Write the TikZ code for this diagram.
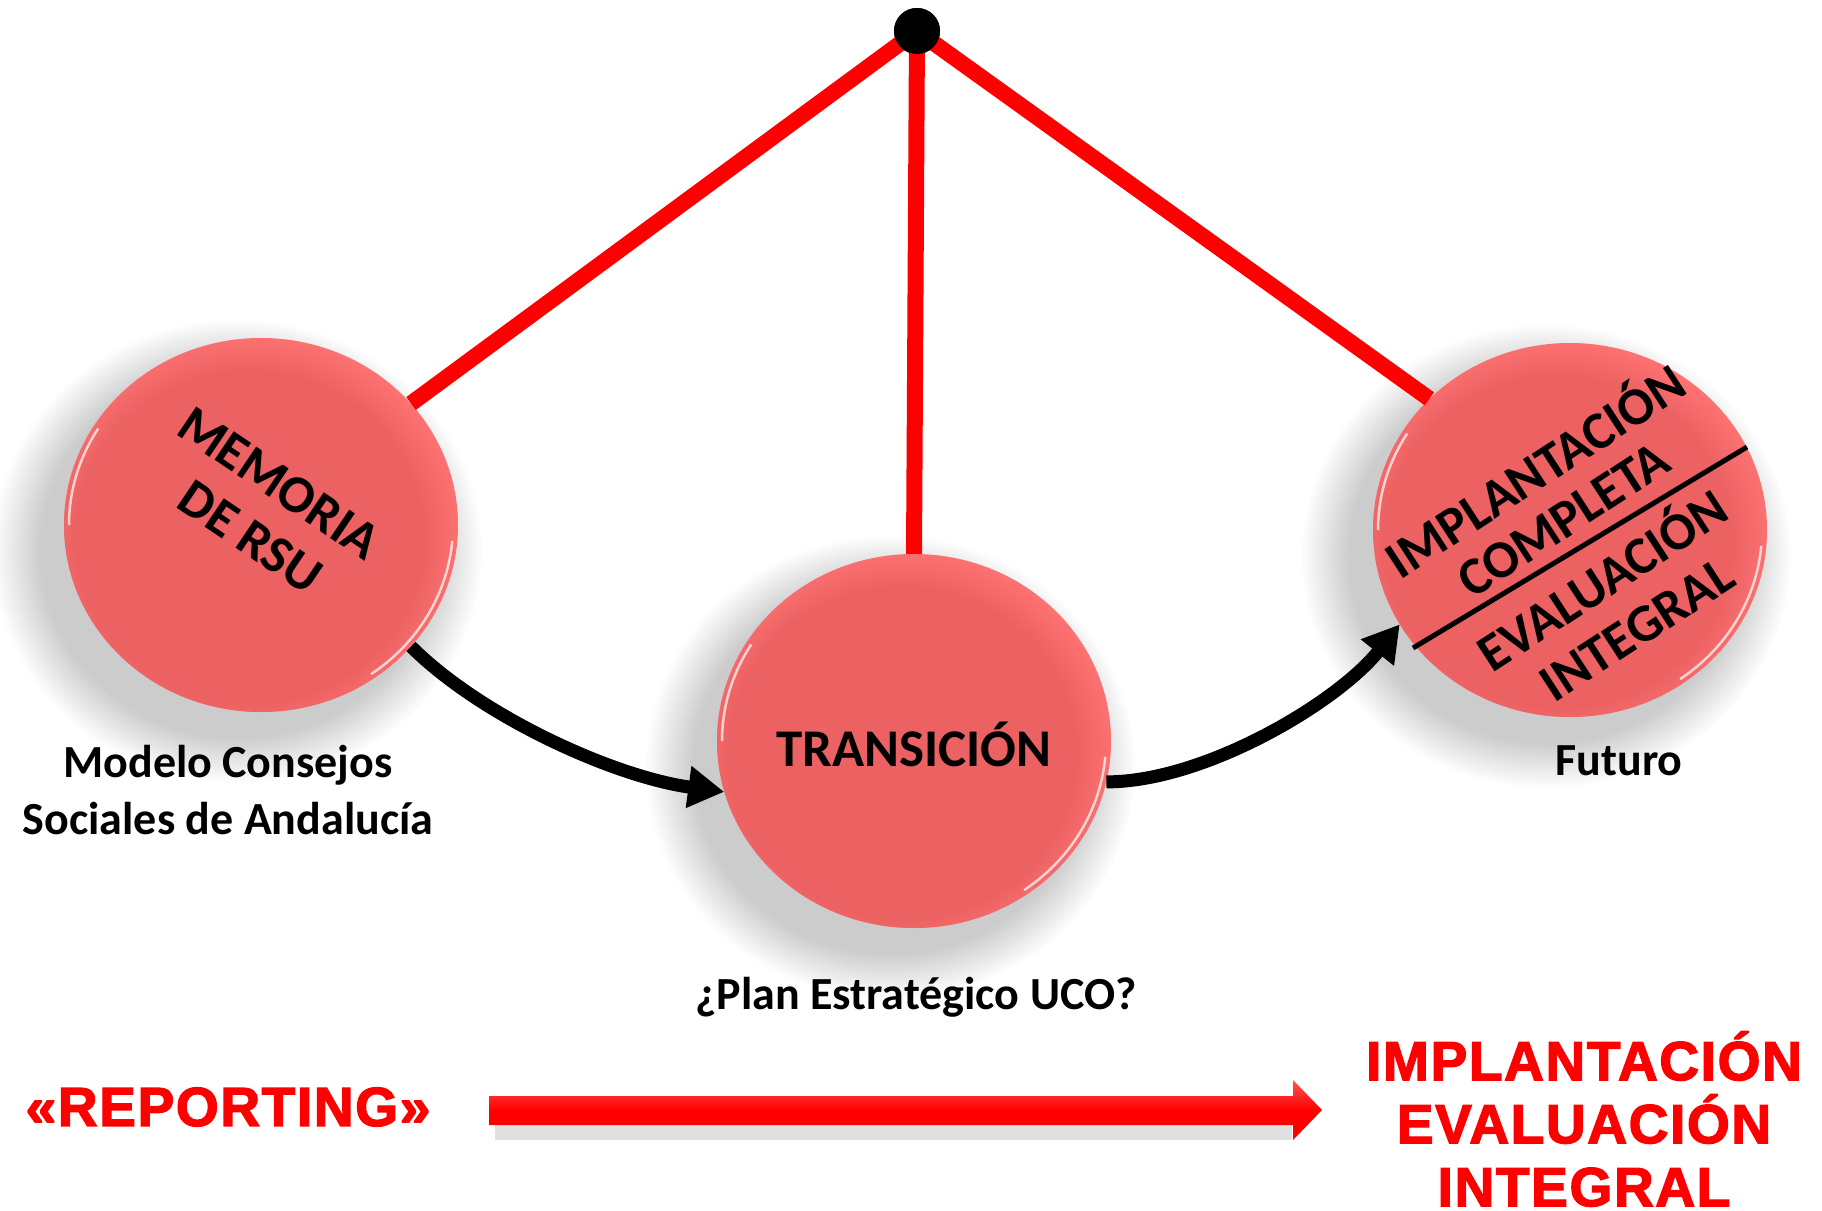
\documentclass[tikz,border=0pt]{standalone}
\usepackage{fontspec}
\setmainfont{Carlito}
\newfontfamily\redfont[BoldFeatures={FakeBold=2.5}, LetterSpace=3]{Liberation Sans}
\usetikzlibrary{arrows.meta,shapes.geometric,fadings,calc}

\definecolor{cfill}{HTML}{EC6262}
\definecolor{crim}{HTML}{FF7373}
\definecolor{rline}{HTML}{FF0000}
\definecolor{rlight}{HTML}{FF5555}

\tikzset{
  bubble/.style={ellipse, minimum width=394pt, minimum height=374pt, inner sep=0pt},
  redline/.style={draw=rline, line width=16pt},
  blackarrow/.style={draw=black, line width=13pt, -{Triangle[length=36pt,width=40pt]}},
  circtext/.style={font=\fontsize{53}{62}\selectfont\bfseries, text=black, inner sep=0pt},
  lbl/.style={font=\fontsize{46}{57}\selectfont\bfseries, align=center, inner sep=0pt},
  redtext/.style={font=\redfont\fontsize{55}{63}\selectfont\bfseries, text=rline, align=center, inner sep=0pt},
  divider/.style={draw=black, line width=5pt},
}

\newcommand\mybubble[3]{%
  \fill[black!20, path fading=circle with fuzzy edge 20 percent] (#2-24,#3+26) ellipse [x radius=245, y radius=232];
  \node[bubble, fill=crim] (#1) at (#2,#3) {};
  \begin{scope}
    \clip (#2,#3) ellipse [x radius=197, y radius=187];
    \fill[cfill, path fading=circle with fuzzy edge 20 percent] (#2-12,#3+12) ellipse [x radius=215, y radius=205];
  \end{scope}
  \draw[white, opacity=.7, line width=2.5pt] ({#2+192*cos(180)},{#3+182*sin(180)}) arc[start angle=180, end angle=212, x radius=192, y radius=182];
  \draw[white, opacity=.7, line width=2.5pt] ({#2+192*cos(5)},{#3+182*sin(5)}) arc[start angle=5, end angle=55, x radius=192, y radius=182];
}

\begin{document}
\begin{tikzpicture}[x=1pt, y=-1pt]
\useasboundingbox (0,0) rectangle (1822,1210);

% bubbles
\mybubble{L}{261}{525}
\mybubble{C}{914}{741}
\mybubble{R}{1570}{530}

% apex
\node[circle, fill=black, minimum size=46pt, inner sep=0pt] (D) at (917,31) {};
\draw[redline] (D.center) -- (L.39);
\draw[redline] (D.center) -- (C.north);
\draw[redline] (D.center) -- (R.137.5);
\node[circle, fill=black, minimum size=46pt, inner sep=0pt] at (D) {};

% circle texts
\begin{scope}[shift={(261,525)}, rotate=-34, transform shape]
  \node[circtext] (Lt1) at (-8,-45) {MEMORIA};
  \node[circtext] (Lt2) at (-2,16) {DE RSU};
\end{scope}
\node[circtext] (Ct) at (914,744) {TRANSICIÓN};
\begin{scope}[shift={(1570,530)}, rotate=33, transform shape]
  \node[circtext] (Rt1) at (3,-72) {IMPLANTACIÓN};
  \node[circtext] (Rt2) at (0,-12) {COMPLETA};
  \node[circtext] (Rt3) at (0,56) {EVALUACIÓN};
  \node[circtext] (Rt4) at (2,120) {INTEGRAL};
\end{scope}
\coordinate (dv1) at (1413,648);
\coordinate (dv2) at (1747,447);
\draw[divider] (dv1) -- (dv2);

% black arrows
\draw[blackarrow] (L.-39) .. controls ($(L.-39)+(70,70)$) and ($(C.195)+(-110,-15)$) .. (C.195);
\draw[blackarrow] (C.-12) .. controls ($(C.-12)+(98,0)$) and ($(R.209)+(-62,78)$) .. (R.209);

% labels
\node[lbl] (ML) at (228,790) {Modelo Consejos\\Sociales de Andalucía};
\node[lbl] (F) at (1619,761) {Futuro};
\node[lbl] (P) at (916,997) {¿Plan Estratégico UCO?};

% bottom
\node[redtext] (REP) at (228,1107) {«REPORTING»};
\node[redtext] (IMP) at (1584,1119) {IMPLANTACIÓN\\EVALUACIÓN\\INTEGRAL};
\coordinate (ba1) at (489,1110);
\coordinate (ba2) at (1322,1110);
\fill[black!12] ($(ba1)+(6,15)$) rectangle ($(ba2)+(-30,30)$);
\path[top color=rlight, bottom color=rline, middle color=rline]
  ($(ba1)+(0,-14)$) -- ($(ba2)+(-29,-14)$) -- ($(ba2)+(-29,-30)$) -- (ba2)
  -- ($(ba2)+(-29,30)$) -- ($(ba2)+(-29,15)$) -- ($(ba1)+(0,15)$) -- cycle;
\end{tikzpicture}
\end{document}
